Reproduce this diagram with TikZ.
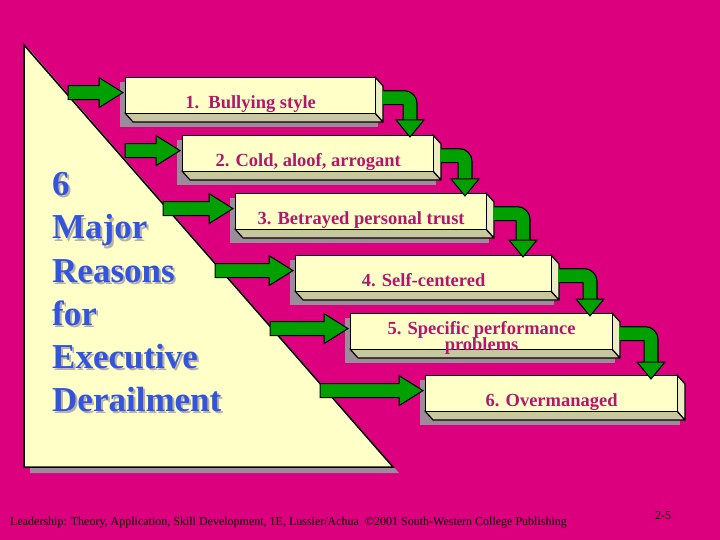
\documentclass[tikz,border=0pt]{standalone}
\usepackage{fontspec}
\setmainfont{Liberation Serif}
\usetikzlibrary{calc}
\definecolor{bg}{HTML}{DC007F}
\definecolor{boxfill}{HTML}{FFFFC8}
\definecolor{bevb}{HTML}{C8C8A0}
\definecolor{bevr}{HTML}{ECECC4}
\definecolor{shd}{HTML}{9A8C98}
\definecolor{tshd}{HTML}{B8B0A8}
\definecolor{grn}{HTML}{00A000}
\definecolor{bluetxt}{HTML}{3355DD}
\definecolor{boxtxt}{HTML}{B0186E}
\tikzset{
  boxst/.style={draw=black,line width=1.2pt,fill=boxfill,anchor=north west,inner sep=0pt,
    text=boxtxt,font=\bfseries\fontsize{18.5}{19}\selectfont},
  bevst/.style={draw=black,line width=1.2pt,line join=round},
  garrow/.style={draw=black,line width=1pt,fill=grn,line join=miter},
}
\newcommand\shtext[1]{\rlap{\color{tshd}\hspace{2pt}\raisebox{-2pt}{#1}}#1}
\newcommand\stepbox[6]{%
  \fill[shd] (#2-5,#3+5) rectangle (#4+3,#5+14);
  \filldraw[bevst,fill=bevb] (#2,#5) -- (#4,#5) -- (#4+8,#5+9) -- (#2+8,#5+9) -- cycle;
  \filldraw[bevst,fill=bevr] (#4,#3) -- (#4+8,#3+9) -- (#4+8,#5+9) -- (#4,#5) -- cycle;
  \node[boxst,minimum width={#4pt-#2pt},minimum height={#5pt-#3pt}] (#1) at (#2,#3) {#6};
}
\newcommand\leftarr[2]{%
  \draw[garrow] let \p1=([xshift=-2pt,yshift=3pt]#1.west) in
    (#2pt,\y1+7pt) -- (\x1-24pt,\y1+7pt) -- (\x1-24pt,\y1+15pt) -- (\x1,\y1)
    -- (\x1-24pt,\y1-15pt) -- (\x1-24pt,\y1-7pt) -- (#2pt,\y1-7pt) -- cycle;
}
\newcommand\bentarr[3]{%
  \coordinate (#1c) at (#2,0);
  \draw[black,line width=15pt,rounded corners=6pt] ([xshift=8pt,yshift=-2pt]#1.east) -| ($(#1c)+(0,#3-16)$);
  \draw[grn,line width=12.6pt,rounded corners=6pt] ([xshift=6pt,yshift=-2pt]#1.east) -| ($(#1c)+(0,#3-15)$);
  \filldraw[garrow] ($(#1c)+(-14,#3-17)$) -- ($(#1c)+(14,#3-17)$) -- ($(#1c)+(0,#3)$) -- cycle;
}
\begin{document}
\begin{tikzpicture}[x=1pt,y=-1pt]
\fill[bg] (0,0) rectangle (720,540);
\useasboundingbox (0,0) rectangle (720,540);
% triangle
\fill[shd] (30,50) -- (30,473) -- (399,473) -- cycle;
\filldraw[draw=black,line width=1.5pt,fill=boxfill] (24,45) -- (24,467) -- (393,467) -- cycle;
\foreach \t [count=\i] in {6,Major,Reasons,for,Executive,Derailment}{
  \node[anchor=base west,font=\bfseries\fontsize{35}{36}\selectfont,text=bluetxt,inner sep=0pt] (L\i) at (52,196+43*\i-43) {\shtext{\t}};
}
\stepbox{b1}{125}{77}{375}{113}{\smash{\raisebox{-13pt}{1.\ \ Bullying style}}}
\stepbox{b2}{182}{135}{433}{171}{\smash{\raisebox{-13pt}{2. Cold, aloof, arrogant}}}
\stepbox{b3}{235}{193}{486}{229}{\smash{\raisebox{-13pt}{3. Betrayed personal trust}}}
\stepbox{b4}{295}{255}{551}{291}{\smash{\raisebox{-13pt}{4. Self-centered}}}
\stepbox{b5}{350}{313}{612}{349}{\smash{\raisebox{-3pt}{\begin{tabular}[t]{@{}c@{}}5. Specific performance\\[-3pt]problems\end{tabular}}}}
\stepbox{b6}{425}{375}{677}{411}{\smash{\raisebox{-13pt}{6. Overmanaged}}}
\leftarr{b1}{68}
\leftarr{b2}{125}
\leftarr{b3}{163}
\leftarr{b4}{215}
\leftarr{b5}{270}
\leftarr{b6}{320}
\bentarr{b1}{410}{137}
\bentarr{b2}{465}{196}
\bentarr{b3}{523}{257}
\bentarr{b4}{590}{316}
\bentarr{b5}{651}{379}
\node[anchor=base west,font=\fontsize{12}{12}\selectfont,inner sep=0pt] (foot) at (10,525) {Leadership: Theory, Application, Skill Development, 1E, Lussier/Achua\ \ ©2001 South-Western College Publishing};
\node[anchor=base west,font=\fontsize{12}{12}\selectfont,inner sep=0pt] (pg) at (655,519) {2-5};
\end{tikzpicture}
\end{document}
